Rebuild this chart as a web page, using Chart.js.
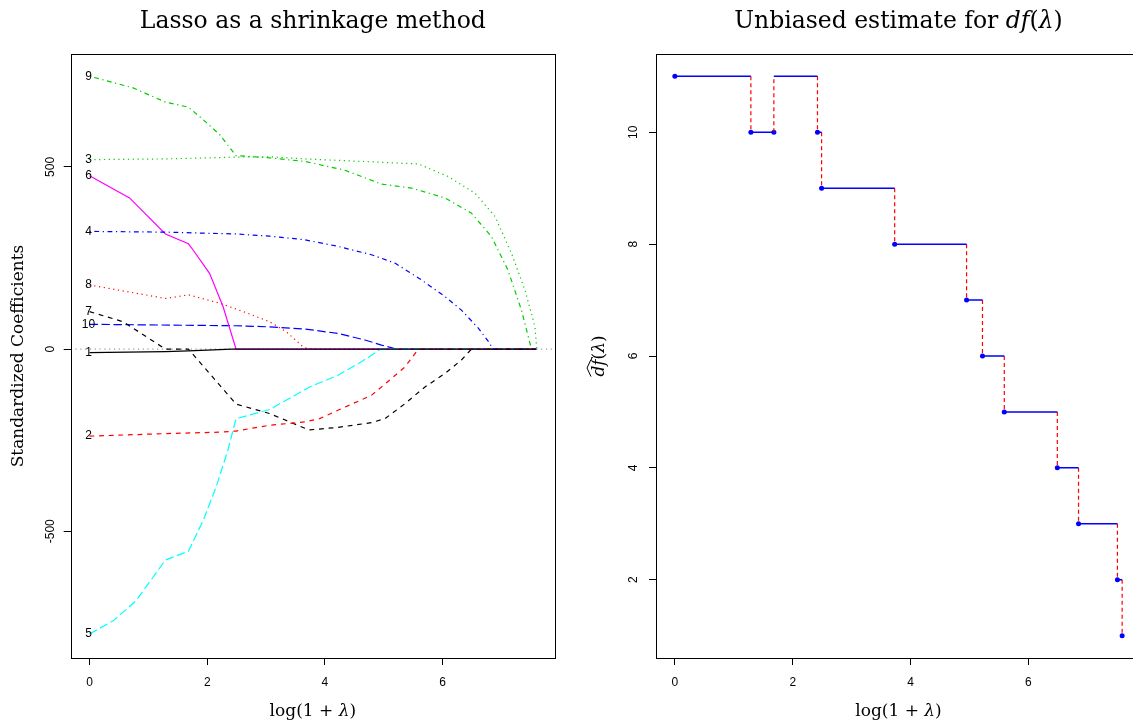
<!DOCTYPE html>
<html><head><meta charset="utf-8">
<script src="https://cdn.jsdelivr.net/npm/chart.js@4.4.0/dist/chart.umd.min.js"></script>
<style>
html,body{margin:0;padding:0;background:#fff;overflow:hidden;width:1133px;height:725px;position:relative;}
#c1{position:absolute;left:0;top:0;}
#c2{position:absolute;left:566px;top:0;}
</style></head><body>
<canvas id="c1" width="566" height="725"></canvas>
<canvas id="c2" width="600" height="725"></canvas>
<script>
// ---------- data ----------
const xTicks = [0, 2, 4, 6];
const lassoYTicks = [-500, 0, 500];
const dfYTicks = [2, 4, 6, 8, 10];
const varNames = ['1','2','3','4','5','6','7','8','9','10'];

// lasso coefficient paths (x = log(1+lambda), y = standardized coefficient)
const x1 = [0, 1.29, 1.68, 2.42, 7.59];
const b1 = [-10, -7, -5, 0, 0];
const x2 = [0, 1.29, 2.21, 2.49, 3.06, 3.66, 3.91, 4.22, 4.79, 5.13, 5.36, 5.59, 7.59];
const b2 = [-239, -232, -228, -225, -209, -200, -191, -168, -127, -81, -49, 0, 0];
const x3 = [0, 1.29, 2.49, 3.06, 3.66, 4.79, 5.59, 6.09, 6.55, 6.89, 7.17, 7.40, 7.57, 7.60];
const b3 = [520, 522, 527, 528, 522, 514, 508, 474, 428, 364, 263, 162, 61, 0];
const x4 = [0, 1.29, 2.49, 3.06, 3.66, 4.22, 4.79, 5.19, 5.64, 6.04, 6.32, 6.61, 6.80, 6.85, 7.59];
const b4 = [323, 321, 316, 310, 300, 282, 259, 236, 190, 144, 107, 57, 16, 0, 0];
const x5 = [0, 0.40, 0.79, 1.29, 1.68, 1.93, 2.15, 2.35, 2.49, 3.06, 3.74, 4.22, 4.62, 4.95, 7.59];
const b5 = [-782, -746, -691, -579, -555, -471, -379, -278, -191, -166, -104, -72, -35, 0, 0];
const x6 = [0, 0.68, 1.29, 1.68, 1.76, 2.04, 2.27, 2.49, 7.59];
const b6 = [476, 415, 316, 289, 272, 208, 116, 0, 0];
const x7 = [0, 0.57, 1.29, 1.68, 2.04, 2.49, 3.06, 3.73, 4.22, 4.79, 5.02, 5.36, 5.70, 6.04, 6.32, 6.49, 7.59];
const b7 = [103, 75, 0, 0, -67, -151, -177, -222, -215, -202, -191, -150, -104, -67, -30, 0, 0];
const x8 = [0, 1.29, 1.68, 2.21, 2.61, 3.06, 3.34, 3.63, 3.73, 7.59];
const b8 = [176, 139, 149, 126, 103, 75, 48, 6, 0, 0];
const x9 = [0, 0.74, 1.29, 1.68, 1.93, 2.21, 2.49, 3.06, 3.66, 4.34, 4.96, 5.47, 6.04, 6.49, 6.83, 7.11, 7.34, 7.51, 7.59];
const b9 = [749, 717, 678, 664, 630, 589, 531, 525, 515, 491, 453, 442, 415, 373, 309, 217, 107, 0, 0];
const x10 = [0, 2.49, 3.06, 3.66, 4.22, 4.68, 4.96, 5.22, 7.59];
const b10 = [68, 64, 61, 55, 43, 25, 11, 0, 0];

// df estimate (right panel)
const knotX = [0, 1.29, 1.68, 2.42, 2.49, 3.73, 4.95, 5.22, 5.59, 6.49, 6.85, 7.51, 7.59];
const dfAtKnot = [11, 10, 10, 10, 9, 8, 7, 6, 5, 4, 3, 2, 1];
const stepLevel = [11, 10, 11, 10, 9, 8, 7, 6, 5, 4, 3, 2];

// ---------- styles ----------
const pathXs = [x1,x2,x3,x4,x5,x6,x7,x8,x9,x10];
const pathBs = [b1,b2,b3,b4,b5,b6,b7,b8,b9,b10];
const colors = ['#000000','#FF0000','#00CD00','#0000FF','#00FFFF','#FF00FF','#000000','#FF0000','#00CD00','#0000FF'];
const u = 1.2;
const ltys = [[], [4*u,4*u], [1*u,3*u], [1*u,3*u,4*u,3*u], [7*u,3*u]];
const X_MIN = -0.32, X_MAX = 7.91;
const SERIF = '"DejaVu Serif"';
const SANS = '"Liberation Sans"';
Chart.defaults.font.family = SANS;
Chart.defaults.color = '#000';

function drawRich(ctx, parts, cx, cy, size, rot) {
  ctx.save();
  ctx.translate(cx, cy);
  if (rot) ctx.rotate(rot);
  ctx.textBaseline = 'middle';
  ctx.textAlign = 'left';
  ctx.fillStyle = '#000';
  let total = 0;
  parts.forEach(p => { ctx.font = (p.i ? 'italic ' : '') + size + 'px ' + SERIF; p.w = ctx.measureText(p.t).width; total += p.w; });
  let x = -total / 2;
  parts.forEach(p => { ctx.font = (p.i ? 'italic ' : '') + size + 'px ' + SERIF; ctx.fillText(p.t, x, 0); p.x0 = x; x += p.w; });
  ctx.restore();
  return parts;
}

function axisCfg(min, max, ticks, fixed, isX, pad) {
  return {
    type: 'linear', min: min, max: max,
    afterBuildTicks: s => { s.ticks = ticks.map(v => ({ value: v })); },
    afterFit: s => { if (isX) s.height = fixed; else s.width = fixed; },
    grid: { drawOnChartArea: false, drawTicks: true, tickLength: 7, tickColor: '#000', color: '#000', lineWidth: 1 },
    border: { display: false },
    ticks: isX
      ? { color: '#000', font: { family: SANS, size: 12 }, padding: pad, maxRotation: 0, minRotation: 0 }
      : { color: '#000', font: { family: SANS, size: 12 }, padding: pad, minRotation: 90, maxRotation: 90, crossAlign: 'center' }
  };
}

function boxPlugin(id) {
  return {
    id: id,
    afterDraw(chart) {
      const a = chart.chartArea, ctx = chart.ctx;
      ctx.save();
      ctx.strokeStyle = '#000'; ctx.lineWidth = 1;
      ctx.strokeRect(Math.round(a.left) + 0.5, Math.round(a.top) + 0.5, Math.round(a.right - a.left), Math.round(a.bottom - a.top));
      ctx.restore();
    }
  };
}

// ---------- left chart ----------
const leftSets = pathXs.map((xs, k) => ({
  data: xs.map((x, i) => ({ x: x, y: pathBs[k][i] })),
  borderColor: colors[k], borderWidth: 1.2, borderDash: ltys[k % 5],
  pointRadius: 0, tension: 0, fill: false
}));
leftSets.push({
  data: [{ x: X_MIN, y: 0 }, { x: X_MAX, y: 0 }],
  borderColor: '#808080', borderWidth: 1, borderDash: [1.2, 3.6], pointRadius: 0, fill: false
});

const leftLabels = {
  id: 'leftLabels',
  afterDraw(chart) {
    const ctx = chart.ctx, xs = chart.scales.x, ys = chart.scales.y, a = chart.chartArea;
    ctx.save();
    ctx.font = '12px ' + SANS; ctx.fillStyle = '#000'; ctx.textAlign = 'center'; ctx.textBaseline = 'middle';
    varNames.forEach((n, k) => {
      ctx.fillText(n, xs.getPixelForValue(pathXs[k][0]) - 1, ys.getPixelForValue(pathBs[k][0]));
    });
    ctx.restore();
    const cx = (a.left + a.right) / 2;
    drawRich(ctx, [{ t: 'Lasso as a shrinkage method' }], cx, 22, 23.5);
    drawRich(ctx, [{ t: 'log(1 + ' }, { t: 'λ', i: true }, { t: ')' }], cx, 712, 17);
    drawRich(ctx, [{ t: 'Standardized Coefficients' }], 19, (a.top + a.bottom) / 2, 17, -Math.PI / 2);
  }
};

new Chart(document.getElementById('c1'), {
  type: 'line',
  data: { datasets: leftSets },
  options: {
    responsive: false, animation: false, devicePixelRatio: 1,
    layout: { padding: { left: 0, right: 11, top: 54, bottom: 0 } },
    plugins: { legend: { display: false }, tooltip: { enabled: false }, title: { display: false } },
    scales: {
      x: axisCfg(X_MIN, X_MAX, xTicks, 67, true, 10),
      y: axisCfg(-848, 810, lassoYTicks, 70.7, false, 1)
    }
  },
  plugins: [leftLabels, boxPlugin('box1')]
});

// ---------- right chart ----------
const horiz = [], vert = [];
stepLevel.forEach((lev, k) => {
  const next = (k + 1 < stepLevel.length) ? stepLevel[k + 1] : dfAtKnot[k + 1];
  horiz.push({ x: knotX[k], y: lev }, { x: knotX[k + 1], y: lev }, { x: knotX[k + 1], y: null });
  vert.push({ x: knotX[k + 1], y: lev }, { x: knotX[k + 1], y: next }, { x: knotX[k + 1], y: null });
});

const rightLabels = {
  id: 'rightLabels',
  afterDraw(chart) {
    const ctx = chart.ctx, a = chart.chartArea;
    const cx = (a.left + a.right) / 2;
    drawRich(ctx, [{ t: 'Unbiased estimate for ' }, { t: 'df', i: true }, { t: '(' }, { t: 'λ', i: true }, { t: ')' }], cx, 22, 23.5);
    drawRich(ctx, [{ t: 'log(1 + ' }, { t: 'λ', i: true }, { t: ')' }], cx, 712, 17);
    const cy = (a.top + a.bottom) / 2;
    const parts = drawRich(ctx, [{ t: 'df', i: true }, { t: '(' }, { t: 'λ', i: true }, { t: ')' }], 34, cy, 17, -Math.PI / 2);
    // wide hat over "df"
    ctx.save();
    ctx.translate(34, cy); ctx.rotate(-Math.PI / 2);
    ctx.strokeStyle = '#000'; ctx.lineWidth = 1;
    const h0 = parts[0].x0, h1 = parts[0].x0 + parts[0].w;
    ctx.beginPath(); ctx.moveTo(h0, -9); ctx.lineTo((h0 + h1) / 2, -13); ctx.lineTo(h1, -9); ctx.stroke();
    ctx.restore();
  }
};

new Chart(document.getElementById('c2'), {
  type: 'line',
  data: {
    datasets: [
      { data: horiz, borderColor: '#0000FF', borderWidth: 1.5, pointRadius: 0, spanGaps: false, fill: false },
      { data: vert, borderColor: '#FF0000', borderWidth: 1.2, borderDash: [4, 3], pointRadius: 0, spanGaps: false, fill: false },
      { data: knotX.map((x, i) => ({ x: x, y: dfAtKnot[i] })), showLine: false, pointRadius: 2.5,
        pointBackgroundColor: '#0000FF', pointBorderColor: '#0000FF', pointBorderWidth: 0 }
    ]
  },
  options: {
    responsive: false, animation: false, devicePixelRatio: 1,
    layout: { padding: { left: 0, right: 25, top: 54, bottom: 0 } },
    plugins: { legend: { display: false }, tooltip: { enabled: false }, title: { display: false } },
    scales: {
      x: axisCfg(X_MIN, X_MAX, xTicks, 67, true, 10),
      y: axisCfg(0.6, 11.4, dfYTicks, 90, false, 9)
    }
  },
  plugins: [rightLabels, boxPlugin('box2')]
});
</script>
</body></html>
